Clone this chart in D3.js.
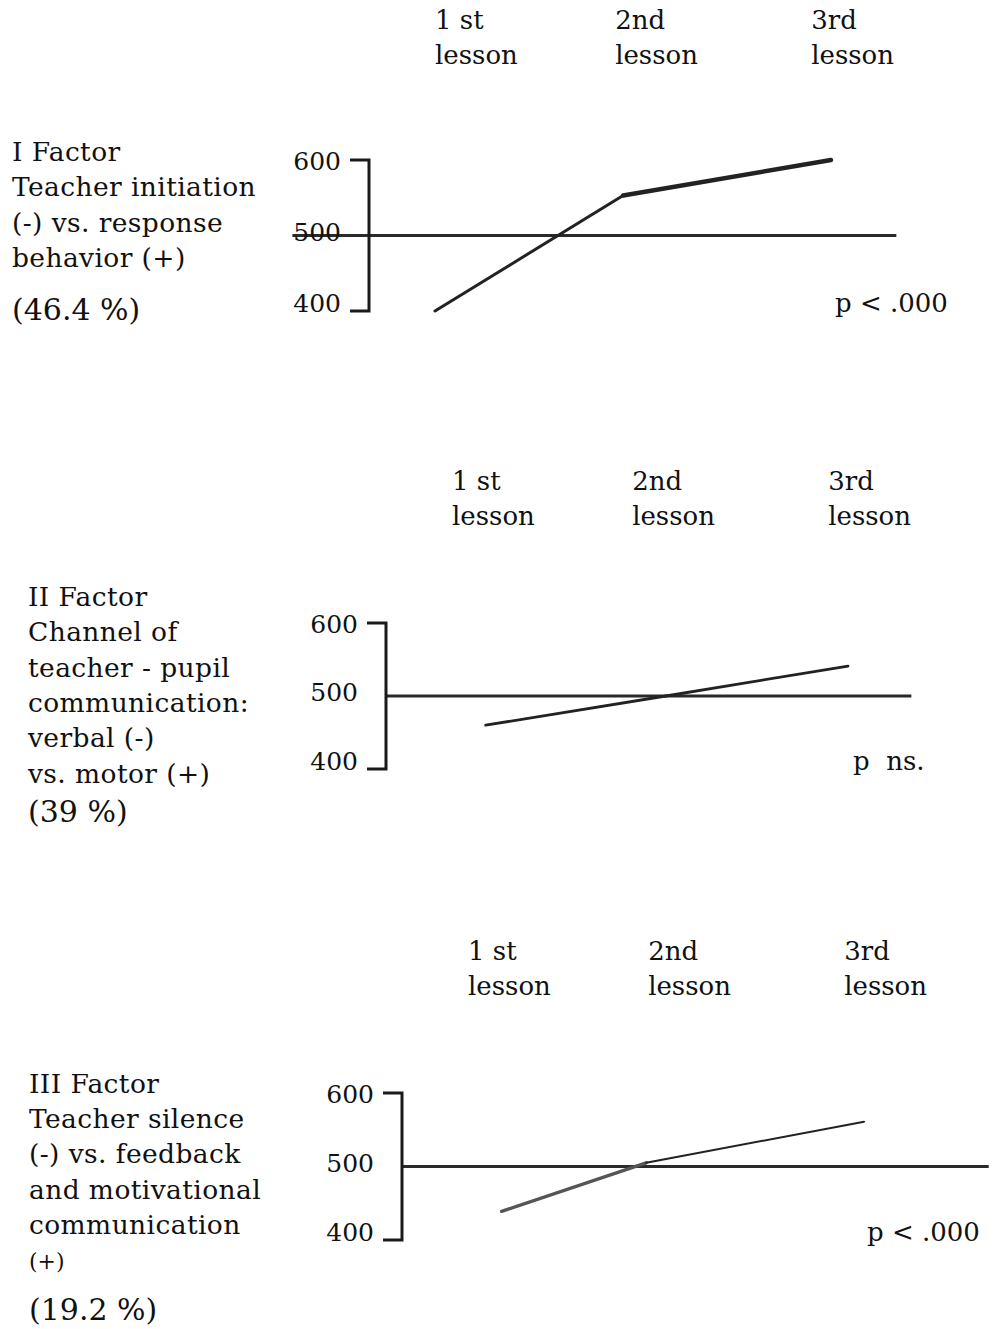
<!DOCTYPE html>
<html>
<head>
<meta charset="utf-8">
<script src="https://cdn.jsdelivr.net/npm/d3@7"></script>
<style>
  html, body { margin: 0; padding: 0; background: #fff; }
  svg { display: block; }
  text { font-family: "DejaVu Serif", "Liberation Serif", serif; fill: #111; }
</style>
</head>
<body>
<script>
// ---------------- DATA ----------------
const lessonNames = ["1 st", "2nd", "3rd"];
const lessonWord = "lesson";
const lessonTickAt = [1, 1.91, 2.9];      // where the lesson headings sit, in lesson units
const yTicks = [400, 500, 600];
const referenceValue = 500;

const factor1Title = ["I Factor", "Teacher initiation", "(-) vs. response", "behavior (+)"];
const factor2Title = ["II Factor", "Channel of", "teacher - pupil", "communication:", "verbal (-)", "vs. motor (+)"];
const factor3Title = ["III Factor", "Teacher silence", "(-) vs. feedback", "and motivational", "communication", "(+)"];
const factorPercent = ["(46.4 %)", "(39 %)", "(19.2 %)"];
const factorP = ["p < .000", "p  ns.", "p < .000"];

// lesson position (x) and score (y) of each factor line
const factor1X = [1, 1.95, 3];
const factor1Y = [400, 553, 600];
const factor2X = [1.17, 2.08, 3];
const factor2Y = [460, 500, 541];
const factor3X = [1.17, 1.90, 3];
const factor3Y = [439, 505, 561];

// extent of the 500 reference line, in lesson units
const factor1Ref = [0.28, 3.33];
const factor2Ref = [0.667, 3.32];
const factor3Ref = [0.667, 3.63];

// ---------------- LAYOUT ----------------
const W = 998, H = 1329;
const panels = [
  { title: factor1Title, pct: factorPercent[0], p: factorP[0], xs: factor1X, ys: factor1Y, ref: factor1Ref,
    axisX: 369, yTop: 160, yBot: 311, lessonY: 29, textX: 12, textY: 161, pctGap: 53, smallLast: false,
    pX: 835, segW: [3, 4.4], segC: ["#222", "#222"] },
  { title: factor2Title, pct: factorPercent[1], p: factorP[1], xs: factor2X, ys: factor2Y, ref: factor2Ref,
    axisX: 386, yTop: 623, yBot: 769, lessonY: 490, textX: 28, textY: 606, pctGap: 39, smallLast: false,
    pX: 853, segW: [2.8, 2.8], segC: ["#222", "#222"] },
  { title: factor3Title, pct: factorPercent[2], p: factorP[2], xs: factor3X, ys: factor3Y, ref: factor3Ref,
    axisX: 402, yTop: 1093, yBot: 1240, lessonY: 960, textX: 29, textY: 1092.7, pctGap: 51, smallLast: true,
    pX: 867, segW: [3.4, 2], segC: ["#555", "#222"] }
];

const svg = d3.select("body").append("svg").attr("width", W).attr("height", H);
svg.append("rect").attr("width", W).attr("height", H).attr("fill", "#fff");

panels.forEach(P => {
  const g = svg.append("g");
  const x = d3.scaleLinear().domain([1, 3]).range([P.axisX + 66, P.axisX + 462]);
  const y = d3.scaleLinear().domain([400, 600]).range([P.yBot, P.yTop]);

  // lesson headings
  lessonNames.forEach((n, i) => {
    const t = g.append("text").attr("x", x(lessonTickAt[i])).attr("y", P.lessonY)
      .attr("font-size", 26);
    t.append("tspan").attr("x", x(lessonTickAt[i])).attr("dy", 0).text(n);
    t.append("tspan").attr("x", x(lessonTickAt[i])).attr("dy", 35).text(lessonWord);
  });

  // factor description
  const step = 35.3;
  P.title.forEach((line, i) => {
    const small = P.smallLast && i === P.title.length - 1;
    g.append("text").attr("x", P.textX).attr("y", P.textY + i * step)
      .attr("font-size", small ? 22 : 26.5).attr("letter-spacing", small ? 0 : 0.4).text(line);
  });
  g.append("text").attr("x", P.textX)
    .attr("y", P.textY + (P.title.length - 1) * step + P.pctGap)
    .attr("font-size", 30).text(P.pct);

  // reference line at 500
  g.append("line")
    .attr("x1", x(P.ref[0])).attr("x2", x(P.ref[1]))
    .attr("y1", y(referenceValue)).attr("y2", y(referenceValue))
    .attr("stroke", "#2a2a2a").attr("stroke-width", 2.8);

  // bracket axis
  const tickLen = 19;
  g.append("path")
    .attr("d", `M${P.axisX - tickLen},${y(600)}H${P.axisX}V${y(400)}H${P.axisX - tickLen}`)
    .attr("fill", "none").attr("stroke", "#1a1a1a").attr("stroke-width", 3);

  // tick labels
  const axis = d3.axisLeft(y).tickValues(yTicks).tickSize(0).tickPadding(28).tickFormat(d3.format("d"));
  const ax = g.append("g").attr("transform", `translate(${P.axisX},0)`).call(axis);
  ax.select(".domain").remove();
  ax.selectAll("text")
    .attr("font-size", 25).attr("fill", "#111")
    .attr("font-family", "DejaVu Serif, Liberation Serif, serif")
    .attr("dy", d => (d - 400) * 0.045 + "px")
    .attr("dominant-baseline", "auto");

  // factor line, segment by segment
  const pts = P.xs.map((v, i) => [x(v), y(P.ys[i])]);
  const line = d3.line();
  for (let i = 0; i < pts.length - 1; i++) {
    g.append("path").attr("d", line([pts[i], pts[i + 1]]))
      .attr("fill", "none").attr("stroke", P.segC[i]).attr("stroke-width", P.segW[i])
      .attr("stroke-linecap", "round");
  }

  // significance
  g.append("text").attr("x", P.pX).attr("y", y(400) + 0.5)
    .attr("font-size", 26).attr("xml:space", "preserve").style("white-space", "pre").text(P.p);
});
</script>
</body>
</html>
